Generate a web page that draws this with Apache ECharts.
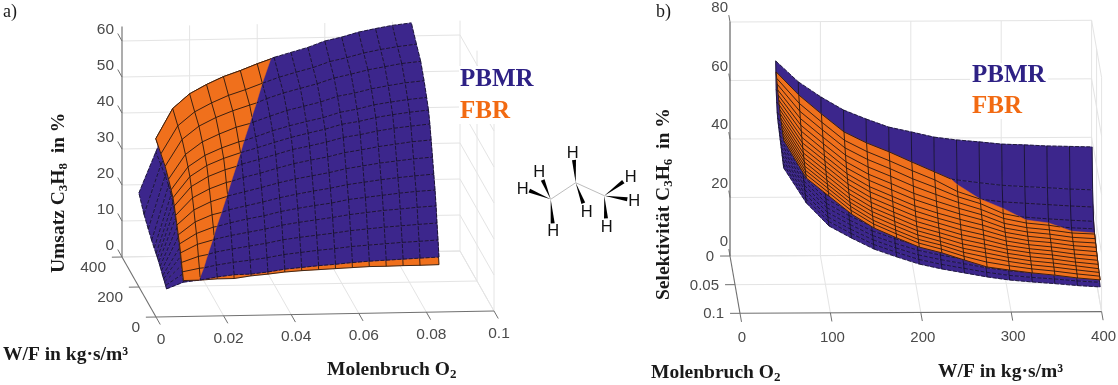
<!DOCTYPE html>
<html><head><meta charset="utf-8">
<style>html,body{margin:0;padding:0;background:#fff}#c{width:1118px;height:385px}</style>
<script src="https://cdn.jsdelivr.net/npm/echarts@6/dist/echarts.min.js"></script>
</head><body><div id="c"></div>
<script>
// ---------- panel a) conversion: rows = W/F, columns = O2 ----------
const aWF = [75,86,98,109,121,136,151,167,182,198,220,250,290,340,400];
const aO2 = [.005,.01,.015,.02,.025,.03,.035,.04,.045,.05,.055,.06,.065,.07,.075,.08,.0856];
const aPBMR = [
[4.6,6.38,6.92,7.68,8.2,8.3,8.8,9.5,9.9,10.3,10.6,11,11.3,11.5,11.7,11.9,12.1],
[5.1,8.17,9.57,10.5,11.2,11.7,12.3,13.1,13.6,14.1,14.5,15,15.3,15.6,15.9,16.1,16.4],
[5.6,10.12,12.22,13.6,14.4,15.1,15.8,16.7,17.3,17.8,18.3,18.9,19.3,19.7,20,20.3,20.6],
[6,12.15,14.95,16.7,17.7,18.5,19.3,20.3,21,21.6,22.2,22.9,23.4,23.9,24.2,24.6,24.9],
[6.4,14,17.3,19.5,20.7,21.7,22.5,23.6,24.4,25.1,25.7,26.6,27.1,27.6,28.1,28.5,28.8],
[7.1,16.4,19.72,22.12,23.7,24.7,25.7,26.8,27.7,28.5,29.2,30.1,30.7,31.3,31.8,32.2,32.6],
[7.7,18.4,22.23,24.93,26.9,28,29.1,30.3,31.3,32.1,32.9,33.9,34.6,35.3,35.8,36.3,36.7],
[8.3,20.3,24.75,27.65,29.85,31.3,32.4,33.7,34.9,35.8,36.6,37.7,38.4,39.2,39.8,40.4,40.8],
[8.8,22,27.07,30.27,32.57,34.4,35.6,36.9,38.2,39.1,40.1,41.3,42,42.9,43.6,44.1,44.6],
[9.3,23.5,29.9,32.5,34.9,36.9,38.2,39.6,40.9,42,43,44.3,45,46,46.7,47.3,47.8],
[9.9,24.7,31.7,34.24,36.74,38.84,40.3,41.9,43.2,44.3,45.3,46.7,47.5,48.6,49.3,49.9,50.4],
[10.8,26,33.8,36.5,39.1,41.4,43.1,44.7,46.2,47.3,48.4,49.9,50.7,51.8,52.6,53.3,53.8],
[12.3,27,36.2,40,41.7,44,46,47.9,49.4,50.6,51.8,53.3,54.3,55.4,56.2,57,57.5],
[14.3,28,37.9,41.8,44.4,45.9,47.9,50.1,51.7,53,54.2,55.8,56.8,58,58.9,59.6,60.2],
[17.7,29,40.1,44.3,46.9,48.2,50.3,52.6,54.7,56,57.3,59,60,61.3,62.2,63,63.6]];
// FBR starts one O2 column later than PBMR
const aFBR = [
[6.83,6.88,7.13,7.15,7.8,8.2,8.7,9,9.2,9.4,9.6,9.8,9.8,9.9,9.9,10],
[8.8,9.7,10.13,10.33,10.33,11.8,12.4,12.8,13.1,13.4,13.7,13.9,14,14.2,14.2,14.4],
[10.9,12.5,13.38,13.68,13.88,15.3,16.1,16.5,16.9,17.2,17.7,17.9,18.2,18.3,18.5,18.6],
[13.1,15.4,16.65,17.15,17.45,17.75,19.8,20.3,20.8,21.2,21.8,22.1,22.5,22.6,22.9,23],
[15.1,17.9,19.6,20.3,20.8,21.1,23.1,23.8,24.3,24.8,25.5,25.9,26.2,26.6,26.8,27],
[17,20.5,22.4,23.48,23.98,24.48,25.08,27.1,27.8,28.3,29.1,29.5,30,30.3,30.6,30.8],
[19.1,23.2,25.4,26.87,27.47,28.07,28.77,30.8,31.5,32.1,33,33.5,34.1,34.4,34.8,35],
[21.1,25.9,28.3,30,30.95,31.55,32.35,33.05,35.2,35.9,36.8,37.4,38,38.5,38.9,39.2],
[23.1,28.4,31.1,32.9,34.23,34.93,35.73,36.53,38.6,39.4,40.5,41,41.8,42.3,42.7,43],
[24.7,30.5,33.5,35.4,36.9,37.7,38.6,39.4,41.6,42.4,43.6,44.1,45,45.5,46,46.3],
[26,32.3,35.4,37.4,39,39.96,41.06,41.86,42.94,44.7,46,46.6,47.6,48.1,48.6,48.9],
[27.7,34.5,37.9,40,41.8,43,44.1,45.1,45.7,47.9,49.3,49.9,50.9,51.5,52.1,52.4],
[29.6,37,40.6,42.9,44.7,46.2,47.6,48.6,49.3,50.35,52.7,53.6,54.5,55.2,55.8,56.2],
[31,38.7,42.5,44.9,46.9,48.4,50.1,51.2,52,52.7,55.3,56.1,57.2,57.9,58.5,58.9],
[32.7,41,45,47.5,49.6,51.2,53,54.6,55.4,56.2,58.5,59.4,60.5,61.3,61.9,62.4]];

// ---------- panel b) selectivity: rows = O2, columns = W/F ----------
const bO2 = [.005,.01,.015,.02,.025,.03,.035,.04,.045,.05,.055,.06,.065,.07,.075,.08,.085];
const bWF = [50,75,100,125,150,175,200,225,250,275,300,325,350,375,400];
const bPBMR = [
[67.6,60.4,55.2,50.7,47.6,44.8,43.1,41.3,40.3,39.6,38.8,38.5,38.1,37.9,37.7],
[58.7,49.5,43.1,38.8,35.4,32.6,30.6,28.8,27.6,26.6,25.7,25.2,24.8,24.3,24],
[55.5,45.6,38.8,34.5,31,28.2,26.1,24.3,23.1,22,21,20.5,20,19.5,19.1],
[53,42.4,35.3,31,27.4,24.7,22.5,20.7,19.4,18.3,17.2,16.7,16.1,15.6,15.2],
[52,41.2,34,29.7,26.1,23.3,21,19.3,18,16.8,15.8,15.2,14.6,14,13.6],
[51.3,40.4,33,28.8,25.1,22.4,20.1,18.4,17.1,15.8,14.8,14.2,13.6,13,12.6],
[50.9,39.8,32.5,28.2,24.6,21.8,19.5,17.8,16.5,15.2,14.2,13.5,13,12.4,11.9],
[50.5,39.3,31.9,27.7,24,21.3,18.9,17.2,15.9,14.6,13.5,12.9,12.4,11.7,11.3],
[50,38.8,31.3,27.1,23.4,20.7,18.3,16.6,15.3,14,12.9,12.3,11.7,11.1,10.7],
[49.6,38.3,30.8,26.5,22.8,20.1,17.7,16,14.7,13.4,12.3,11.7,11.1,10.5,10],
[49.2,37.8,30.2,26,22.3,19.5,17.1,15.4,14.1,12.8,11.7,11,10.5,9.8,9.4],
[48.8,37.3,29.6,25.4,21.7,19,16.6,14.8,13.5,12.2,11.1,10.4,9.8,9.2,8.7],
[48.4,36.8,29.1,24.8,21.1,18.4,16,14.3,12.9,11.5,10.5,9.8,9.2,8.6,8.1],
[48,36.2,28.5,24.3,20.5,17.8,15.4,13.7,12.3,10.9,9.8,9.2,8.6,7.9,7.4],
[47.5,35.7,27.9,23.7,20,17.2,14.8,13.1,11.7,10.3,9.2,8.5,8,7.3,6.8],
[47.1,35.2,27.4,23.2,19.4,16.7,14.2,12.5,11.1,9.7,8.6,7.9,7.3,6.6,6.1],
[46.7,34.7,26.8,22.6,18.8,16.1,13.6,11.9,10.5,9.1,8,7.3,6.7,6,5.5]];
// FBR starts one O2 row later than PBMR
const bFBR = [
[64.8,56.9,50.4,44.2,40.4,37.3,33.8,30.4,27,25.5,23.8,22.3,21.3,20.2,19.1],
[63.6,55,48.5,42.3,38.4,35.2,31.8,28.6,24.6,22,20.3,19.2,18.4,17.7,17],
[62.6,53.3,46.9,40.7,36.7,33.5,30,27,23.8,21.4,18,16.4,15.7,15.2,15],
[61.6,51.8,45.4,39.2,35.1,31.9,28.5,25.6,22.8,20.4,17.3,15.7,14.9,13.7,13.1],
[60.8,50.5,44.1,37.9,33.6,30.4,27,24.3,21.8,19.6,16.6,15.1,14.3,13.2,12.8],
[60.1,49.4,43,36.8,32.5,29.2,25.9,23.3,20.9,18.8,16,14.6,13.8,12.7,12.2],
[59.4,48.3,42,35.8,31.3,28,24.7,22.2,20,18,15.5,14.1,13.3,12.2,11.7],
[58.9,47.4,41.2,35,30.5,27.2,23.9,21.4,19.2,17.3,15,13.6,12.9,11.8,11.2],
[58.4,46.6,40.4,34.2,29.6,26.3,23,20.7,18.4,16.6,14.5,13.2,12.4,11.4,10.7],
[57.9,45.9,39.7,33.5,28.9,25.5,22.3,20,17.7,16,14,12.8,12,10.9,10.2],
[57.5,45.3,39.1,32.9,28.2,24.9,21.6,19.4,17.1,15.4,13.6,12.4,11.6,10.5,9.7],
[57.2,44.8,38.5,32.3,27.7,24.3,21.1,18.9,16.5,14.9,13.2,12,11.2,10.1,9.3],
[56.9,44.3,38.1,31.9,27.2,23.8,20.6,18.4,16,14.4,12.8,11.6,10.8,9.8,8.8],
[56.6,43.9,37.7,31.5,26.7,23.3,20.1,18.1,15.6,13.9,12.4,11.2,10.4,9.4,8.5],
[56.4,43.5,37.3,31.1,26.4,23,19.8,17.7,15.2,13.2,11.9,10.8,10,9,8.2],
[56.2,43.2,37,30.8,26,22.6,19.4,17.4,14.9,12.5,11.4,10.4,9.6,8.6,7.9]];

// ---------- ticks ----------
const aTicksZ = [0,10,20,30,40,50,60];
const aTicksO2 = [0,.02,.04,.06,.08,.1];
const aLabelsO2 = ['0','0.02','0.04','0.06','0.08','0.1'];
const aTicksWF = [0,200,400];
const bTicksZ = [0,20,40,60,80];
const bTicksO2 = [0,.05,.1];
const bLabelsO2 = ['0','0.05','0.1'];
const bTicksWF = [0,100,200,300,400];

const PURPLE='#3c268c', ORANGE='#f0701c', LEG_P='#2e2185', LEG_F='#f26a12';
const GRID='#e4e4e4', AXIS='#707070', TICKTXT='#4a4a4a';
const SANS='"Liberation Sans",Arial,sans-serif', SERIF='"Liberation Serif","Times New Roman",serif';

// oblique views of the two boxes, onto the plot plane
const projA=(o,w,z)=>[156+3380*o-0.085*w, 317-60*o-0.15*w-3.6*z];
const projB=(o,w,z)=>[730+100*o+0.904*w, 256+573*o-0.00425*w-2.925*z];

const surfaces={
 a:{proj:projA, P:(i,j)=>[aO2[j],aWF[i],aPBMR[i][j]], nPi:aWF.length,nPj:aO2.length,
    F:(i,j)=>[aO2[j+1],aWF[i],aFBR[i][j]], nFi:aWF.length,nFj:aO2.length-1,
    dF:(i,j)=>aFBR[i][j]-aPBMR[i][j+1], rowDash:[4,1.6], colDash:[4,1.6]},
 b:{proj:projB, P:(i,j)=>[bO2[i],bWF[j],bPBMR[i][j]], nPi:bO2.length,nPj:bWF.length,
    F:(i,j)=>[bO2[i+1],bWF[j],bFBR[i][j]], nFi:bO2.length-1,nFj:bWF.length,
    dF:(i,j)=>bFBR[i][j]-bPBMR[i+1][j], rowDash:[4,1.6], colDash:null}
};

function clipPoly(pts){ // pts: {p,d}; keeps d>=0
  const out=[];
  for(let k=0;k<pts.length;k++){
    const a=pts[k], b=pts[(k+1)%pts.length];
    if(a.d>=0) out.push(a.p);
    if((a.d>=0)!==(b.d>=0)){
      const t=a.d/(a.d-b.d);
      out.push([a.p[0]+t*(b.p[0]-a.p[0]), a.p[1]+t*(b.p[1]-a.p[1])]);
    }
  }
  return out;
}
function clipSeg(a,b){
  if(a.d<0&&b.d<0) return null;
  if(a.d>=0&&b.d>=0) return [a.p,b.p];
  const t=a.d/(a.d-b.d), m=[a.p[0]+t*(b.p[0]-a.p[0]), a.p[1]+t*(b.p[1]-a.p[1])];
  return a.d>=0?[a.p,m]:[m,b.p];
}
function vertex(s,kind,i,j,api){
  const v=(kind==='P'?s.P:s.F)(i,j);
  const xy=s.proj(v[0],v[1],v[2]);
  return {p:api.coord(xy), d:kind==='P'?1:s.dF(i,j)};
}
function layerSeries(panel,kind,top,mode){
  const s=surfaces[panel];
  const ni=kind==='P'?s.nPi:s.nFi, nj=kind==='P'?s.nPj:s.nFj;
  const data=[];
  if(mode==='fill'){ for(let i=0;i<ni-1;i++)for(let j=0;j<nj-1;j++)data.push([i,j]); }
  else { for(let i=0;i<ni;i++)for(let j=0;j<nj;j++)data.push([i,j]); }
  const color=kind==='P'?PURPLE:ORANGE;
  return {type:'custom',coordinateSystem:'cartesian2d',silent:true,clip:false,progressive:0,
    animation:false,encode:{x:0,y:1},data,
    renderItem(params,api){
      const i=api.value(0), j=api.value(1), V=(a,b)=>{
        const q=vertex(s,kind,a,b,api); if(!top) q.d=1; return q;};
      if(mode==='fill'){
        const poly=clipPoly([V(i,j),V(i,j+1),V(i+1,j+1),V(i+1,j)]);
        if(poly.length<3) return null;
        return {type:'polygon',shape:{points:poly},style:{fill:color,stroke:color,lineWidth:0.5}};
      }
      const ch=[], add=(a,b,dash)=>{
        const seg=clipSeg(a,b); if(!seg) return;
        const st={stroke:kind==='P'?'#14102a':'#21140c',lineWidth:0.85,fill:null};
        if(kind==='P'&&dash) st.lineDash=dash;
        ch.push({type:'line',shape:{x1:seg[0][0],y1:seg[0][1],x2:seg[1][0],y2:seg[1][1]},style:st});
      };
      if(j<nj-1) add(V(i,j),V(i,j+1),s.rowDash);
      if(i<ni-1) add(V(i,j),V(i+1,j),s.colDash);
      return {type:'group',children:ch};
    }};
}

function decorSeries(build){
  return {type:'custom',coordinateSystem:'cartesian2d',silent:true,clip:false,animation:false,
    encode:{x:0,y:1},data:[[0,0]],
    renderItem(params,api){
      const ch=[];
      const ln=(a,b,color,w)=>{const p=api.coord(a),q=api.coord(b);
        ch.push({type:'line',shape:{x1:p[0],y1:p[1],x2:q[0],y2:q[1]},style:{stroke:color,lineWidth:w,fill:null}});};
      const tx=(t,pt,dx,dy,align,size)=>{const p=api.coord(pt);
        ch.push({type:'text',style:{text:t,x:p[0]+dx,y:p[1]+dy,align,verticalAlign:'middle',
          font:size+'px '+SANS,fill:TICKTXT}});};
      build(ln,tx);
      return {type:'group',children:ch};
    }};
}
const decorA=(ln,tx)=>{
  const P=projA, zTop=64, g=GRID;
  aTicksZ.forEach(z=>{ln(P(0,400,z),P(.1,400,z),g,1);ln(P(.1,400,z),P(.1,0,z),g,1);});
  aTicksO2.slice(1).forEach(o=>{ln(P(o,400,0),P(o,400,zTop),g,1);ln(P(o,400,0),P(o,0,0),g,1);});
  aTicksWF.slice(0,2).forEach(w=>{ln(P(.1,w,0),P(.1,w,zTop),g,1);});
  ln(P(0,200,0),P(.1,200,0),g,1); ln(P(0,400,0),P(.1,400,0),g,1);
  // axes
  ln(P(0,400,0),P(0,400,zTop),'#8a8a8a',1.4);
  ln(P(0,400,0),P(0,0,0),AXIS,1.1);
  ln(P(0,0,0),P(.1,0,0),AXIS,1.1);
  aTicksZ.forEach(z=>{ln(P(0,400,z),P(0,450,z),AXIS,1);tx(String(z),P(0,400,z),-8,-11,'right',15.5);});
  aTicksWF.forEach(w=>{ln(P(0,w,0),P(-.003,w,0),AXIS,1);tx(String(w),P(0,w,0),-16,11,'right',15.5);});
  aTicksO2.forEach((o,k)=>{ln(P(o,0,0),P(o,-50,0),AXIS,1);tx(aLabelsO2[k],P(o,0,0),5,22.5,'center',15.5);});
};
const decorB=(ln,tx)=>{
  const P=projB, g=GRID;
  bTicksZ.forEach(z=>{ln(P(0,0,z),P(0,400,z),g,1);ln(P(0,400,z),P(.1,400,z),g,1);});
  bTicksWF.slice(1).forEach(w=>{ln(P(0,w,0),P(0,w,80),g,1);ln(P(0,w,0),P(.1,w,0),g,1);});
  bTicksO2.slice(1).forEach(o=>{ln(P(o,400,0),P(o,400,80),g,1);});
  ln(P(0,0,0),P(0,400,0),g,1); ln(P(.05,0,0),P(.05,400,0),g,1);
  ln(P(0,0,0),P(0,0,80),'#8a8a8a',1.6);
  ln(P(0,0,0),P(.1,0,0),AXIS,1.1);
  ln(P(.1,0,0),P(.1,400,0),AXIS,1.1);
  bTicksZ.forEach(z=>{ln(P(0,0,z),P(-.012,0,z),AXIS,1);tx(String(z),P(0,0,z),-2,-14,'right',15);});
  bTicksO2.forEach((o,k)=>{ln(P(o,0,0),P(o,-11,0),AXIS,1);tx(bLabelsO2[k],P(o,0,0),-16,1,'right',15);});
  bTicksWF.forEach(w=>{ln(P(.1,w,0),P(.115,w,0),AXIS,1);tx(String(w),P(.1,w,0),2,25,'center',15);});
};

// ---------- text and molecule ----------
const boldRich={b:{font:'bold 19.5px '+SERIF,fill:'#1a1a1a'},s:{font:'bold 13px '+SERIF,fill:'#1a1a1a',padding:[9,0,0,0]}};
const plain=(t,x,y,font,fill,align)=>({type:'text',z:20,x,y,style:{text:t,font,fill:fill||'#1a1a1a',align:align||'left',verticalAlign:'middle'}});
const richT=(t,x,y,rot,align)=>({type:'text',z:20,x,y,rotation:rot,style:{text:t,rich:boldRich,align:align||'left',verticalAlign:'middle'}});
const boxes=[[459,66,78,58],[970,63,78,56]].map(b=>({type:'rect',z:15,shape:{x:b[0],y:b[1],width:b[2],height:b[3]},style:{fill:'#fff'}}));
const carbons=[[550.7,199.3],[575.7,182.7],[604.3,195.7]];
const wedges=[[0,542.7,180],[0,529.3,190.7],[0,552.7,223.3],[1,574,160],[1,583.3,203.3],[2,623.3,181.7],[2,627.3,199.3],[2,606,218.3]];
const hLabels=[[539.3,172.7],[522.7,189.3],[553.3,231.7],[572.7,153.3],[586.7,212.3],[630.7,177.7],[634.3,201.7],[606.7,227.3]];
const molecule=[];
molecule.push({type:'polyline',z:20,shape:{points:carbons},style:{stroke:'#bdbdbd',lineWidth:1,fill:null}});
wedges.forEach(w=>{
  const c=carbons[w[0]],dx=w[1]-c[0],dy=w[2]-c[1],L=Math.hypot(dx,dy),nx=-dy/L*2,ny=dx/L*2;
  molecule.push({type:'polygon',z:20,shape:{points:[c,[w[1]+nx,w[2]+ny],[w[1]-nx,w[2]-ny]]},style:{fill:'#000'}});
});
hLabels.forEach(h=>molecule.push(plain('H',h[0],h[1],'16.5px '+SANS,'#111','center')));

const graphics=[...boxes,
  plain('a)',3,12,'18px '+SERIF),
  plain('b)',656,12,'18px '+SERIF),
  richT('{b|Umsatz C}{s|3}{b|H}{s|8}{b|  in %}',59,273,Math.PI/2),
  richT('{b|Selektivität C}{s|3}{b|H}{s|6}{b|  in %}',664,300,Math.PI/2),
  plain('W/F in kg·s/m³',3,355,'bold 19.5px '+SERIF),
  plain('W/F in kg·s/m³',938,372,'bold 19.5px '+SERIF),
  richT('{b|Molenbruch O}{s|2}',327,370,0),
  richT('{b|Molenbruch O}{s|2}',651,373,0),
  plain('PBMR',460,80,'bold 25px '+SERIF,LEG_P),
  plain('FBR',460,112,'bold 25px '+SERIF,LEG_F),
  plain('PBMR',972,75.5,'bold 25px '+SERIF,LEG_P),
  plain('FBR',972,107,'bold 25px '+SERIF,LEG_F),
  ...molecule];

const series=[decorSeries(decorA),decorSeries(decorB)];
['a','b'].forEach(p=>{
  series.push(layerSeries(p,'F',false,'fill'),layerSeries(p,'F',false,'line'),
              layerSeries(p,'P',false,'fill'),layerSeries(p,'P',false,'line'),
              layerSeries(p,'F',true,'fill'),layerSeries(p,'F',true,'line'));
});

const chart=echarts.init(document.getElementById('c'),null,{renderer:'canvas'});
chart.setOption({animation:false,backgroundColor:'#fff',
  grid:{left:0,right:0,top:0,bottom:0},
  xAxis:{type:'value',min:0,max:1118,show:false},
  yAxis:{type:'value',min:0,max:385,inverse:true,show:false},
  tooltip:{show:false},
  series,graphic:{elements:graphics}});
</script></body></html>
